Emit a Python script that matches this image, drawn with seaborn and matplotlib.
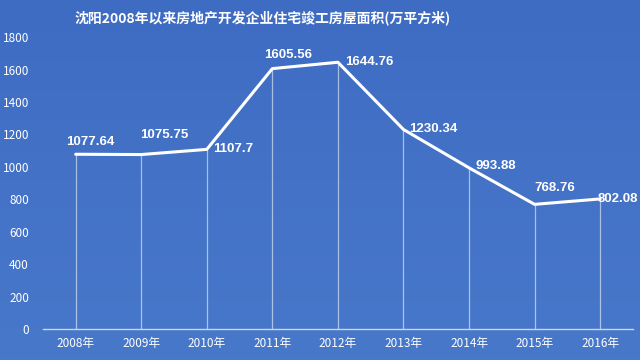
import numpy as np
import pandas as pd
import matplotlib
matplotlib.use("Agg")
import matplotlib.pyplot as plt
import seaborn as sns

# data
years = ["2008年", "2009年", "2010年", "2011年", "2012年",
         "2013年", "2014年", "2015年", "2016年"]
area = [1077.64, 1075.75, 1107.7, 1605.56, 1644.76,
        1230.34, 993.88, 768.76, 802.08]
y_ticks = [0, 200, 400, 600, 800, 1000, 1200, 1400, 1600, 1800]
title = "沈阳2008年以来房地产开发企业住宅竣工房屋面积(万平方米)"

# label offsets in pixels (dx, dy) relative to each point
label_offsets = [(-10, 12), (-1, 20), (6, 0), (-8, 14), (7, 0),
                 (6, 0), (6, 2), (0, 16), (-3, 0)]


def main():
    sns.set_theme(style="white")
    plt.rcParams["font.family"] = ["Noto Sans CJK SC", "DejaVu Sans"]

    bg = "#4472c4"
    df = pd.DataFrame({"x": np.arange(len(years)), "area": area})

    fig = plt.figure(figsize=(6.4, 3.6), dpi=100, facecolor=bg)

    # subtle vertical gradient background (figimage origin is bottom-left)
    grad = np.linspace(1, 0, 360).reshape(-1, 1)
    cmap = matplotlib.colors.LinearSegmentedColormap.from_list(
        "bg", ["#3e6cc3", "#4878ca"])
    fig.figimage(np.repeat(grad, 640, axis=1), cmap=cmap, origin="lower", zorder=-10)

    ax = fig.add_axes([0.067, 0.086, 0.922, 0.811])
    ax.patch.set_alpha(0)

    # drop lines
    ax.vlines(df["x"], 0, df["area"], color="white", alpha=0.55, linewidth=0.9, zorder=2)
    sns.lineplot(data=df, x="x", y="area", ax=ax, color="white",
                 linewidth=2.2, zorder=3)

    for (x, v), (dx, dy) in zip(df[["x", "area"]].values, label_offsets):
        lbl = f"{v:g}"
        ax.annotate(lbl, (x, v), xytext=(dx * 0.72, dy * 0.72),
                    textcoords="offset points", ha="left", va="center",
                    color="white", fontsize=9.5, fontweight="bold",
                    family=["Liberation Sans", "DejaVu Sans"], zorder=4)

    ax.set_xlim(-0.5, len(years) - 0.5)
    ax.set_ylim(0, 1800)
    ax.set_yticks(y_ticks)
    ax.set_xticks(df["x"])
    ax.set_xticklabels(years)
    ax.tick_params(axis="y", colors="white", labelsize=8.5, length=0, pad=10)
    ax.tick_params(axis="x", colors="white", labelsize=8.5, length=0, pad=6)
    ax.set_xlabel("")
    ax.set_ylabel("")
    for s in ["top", "right", "left"]:
        ax.spines[s].set_visible(False)
    ax.spines["bottom"].set_color("#c9d6f0")
    ax.spines["bottom"].set_linewidth(1)

    fig.text(0.41, 0.952, title, ha="center", va="center", color="white",
             fontsize=10, fontweight="bold")

    fig.savefig("out.png", dpi=100, facecolor=bg)


if __name__ == "__main__":
    main()
